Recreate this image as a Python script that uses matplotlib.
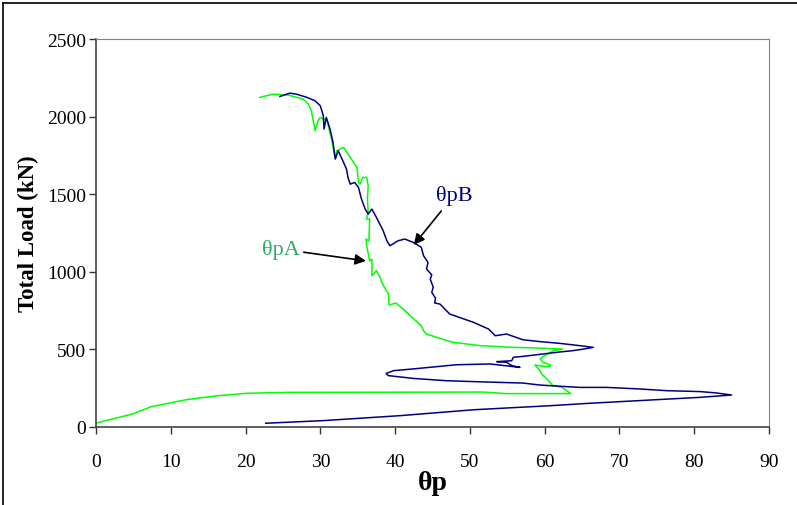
import matplotlib
matplotlib.use('Agg')
import matplotlib.pyplot as plt
from matplotlib.lines import Line2D

plt.rcParams['font.family'] = ['Liberation Serif', 'DejaVu Serif']

# theta_pA (green) traced in drawing order
theta_a = [0, 4.9, 7.4, 12.1, 16.0, 20.1, 25.5, 51.8, 54.9, 63.5, 62.3, 61.1, 60.3,
           59.6, 59.2, 58.7, 59.8, 60.7, 60.8, 59.8, 59.4, 59.8, 60.7, 61.2, 62.4,
           58.9, 55.8, 51.4, 47.7, 46.0, 44.2, 43.8, 43.5, 42.4, 41.1, 40.1, 39.2,
           39.1, 38.2, 38.0, 37.5, 36.9, 36.9, 36.6, 36.2, 36.1, 36.5, 36.6, 36.2,
           36.4, 36.3, 36.4, 36.2, 35.7, 35.3, 35.1, 34.9, 33.7, 33.1, 32.2, 32.0,
           31.5, 30.9, 30.0, 29.7, 29.3, 28.8, 28.4, 27.7, 25.7, 23.7, 21.9]
load_a = [25, 84, 131, 176, 200, 217, 223, 225, 215, 215, 256, 266, 309,
          341, 374, 399, 391, 391, 400, 417, 438, 455, 477, 492, 502,
          509, 513, 524, 546, 571, 599, 620, 653, 700, 760, 799, 786,
          857, 932, 964, 1007, 975, 1082, 1070, 1168, 1211, 1200, 1340, 1340,
          1383, 1469, 1555, 1608, 1608, 1565, 1576, 1673, 1759, 1802, 1780, 1727,
          1855, 1974, 1995, 1974, 1909, 2038, 2081, 2113, 2139, 2145, 2124]

# theta_pB (navy) traced in drawing order
theta_b = [22.7, 30.4, 40.7, 50.5, 60.7, 66.1, 72.7, 80.8, 85.0, 83.0, 80.8, 76.3,
           72.7, 68.3, 64.7, 59.4, 57.1, 52.0, 46.9, 42.4, 39.1, 38.8, 39.8, 42.4,
           48.2, 52.7, 56.7, 55.6, 54.9, 53.6, 55.6, 55.8, 57.1, 61.6, 63.8, 65.2,
           66.5, 64.7, 62.0, 59.4, 57.1, 54.9, 53.4, 52.5, 50.5, 47.3, 46.0, 45.3,
           45.4, 44.9, 45.1, 44.7, 44.9, 44.2, 44.4, 43.8, 43.5, 42.4, 41.3, 40.4,
           39.3, 38.9, 38.4, 37.5, 36.9, 36.4, 36.0, 35.5, 35.1, 34.6, 34.0, 33.7,
           33.5, 33.1, 32.4, 32.0, 31.7, 31.3, 30.8, 30.5, 30.4, 30.0, 29.3, 28.2,
           26.8, 25.9, 25.3, 24.6]
load_b = [24, 41, 73, 111, 137, 153, 170, 191, 206, 219, 228, 234,
          245, 255, 255, 270, 283, 290, 298, 313, 331, 345, 363, 374,
          401, 406, 384, 395, 417, 421, 427, 449, 455, 481, 492, 502,
          513, 524, 539, 550, 562, 599, 588, 631, 674, 728, 792, 799,
          830, 868, 900, 953, 980, 1018, 1060, 1104, 1158, 1190, 1211, 1200,
          1168, 1200, 1265, 1351, 1404, 1372, 1404, 1469, 1544, 1576, 1565, 1608,
          1662, 1705, 1780, 1727, 1834, 1920, 1995, 1920, 2006, 2070, 2102, 2124,
          2145, 2151, 2141, 2130]

x_ticks = [0, 10, 20, 30, 40, 50, 60, 70, 80, 90]
y_ticks = [0, 500, 1000, 1500, 2000, 2500]

fig = plt.figure(figsize=(7.97, 5.06), dpi=100)
ax = fig.add_axes([0.1204, 0.1542, 0.8445, 0.7667])

ax.plot(theta_a, load_a, color='#00ff00', lw=1.1)
ax.plot(theta_b, load_b, color='#000080', lw=1.1)

ax.set_xlim(0, 90)
ax.set_ylim(0, 2500)
ax.set_xticks(x_ticks)
ax.set_yticks(y_ticks)
ax.tick_params(direction='out', length=5, width=1, colors='#333333', labelcolor='black',
               labelsize=14)
ax.tick_params(axis='x', pad=14)
ax.tick_params(axis='y', pad=2)

for side in ['top', 'right']:
    ax.spines[side].set_color('#808080')
for side in ['left', 'bottom']:
    ax.spines[side].set_color('#444444')
    ax.spines[side].set_linewidth(1.2)

ax.set_xlabel('θp', fontsize=20, fontweight='bold', labelpad=0)
ax.set_ylabel('Total Load (kN)', fontsize=16.5, fontweight='bold', labelpad=6)

ax.annotate('θpB', xy=(42.5, 1173), xytext=(47.9, 1495), color='#000080', fontsize=16,
            ha='center', va='center',
            arrowprops=dict(arrowstyle='-|>', color='black', lw=1.2, shrinkA=3, shrinkB=0))
ax.annotate('θpA', xy=(36.1, 1070), xytext=(24.7, 1147), color='#33aa66', fontsize=16,
            ha='center', va='center',
            arrowprops=dict(arrowstyle='-|>', color='black', lw=1.2, shrinkA=1, shrinkB=0))

# outer frame lines at top and left of the picture
fig.add_artist(Line2D([3 / 797, 1], [1 - 4 / 506, 1 - 4 / 506], color='black', lw=1.2))
fig.add_artist(Line2D([3 / 797, 3 / 797], [0, 1 - 4 / 506], color='black', lw=1.2))

fig.savefig('out.png', dpi=100)
